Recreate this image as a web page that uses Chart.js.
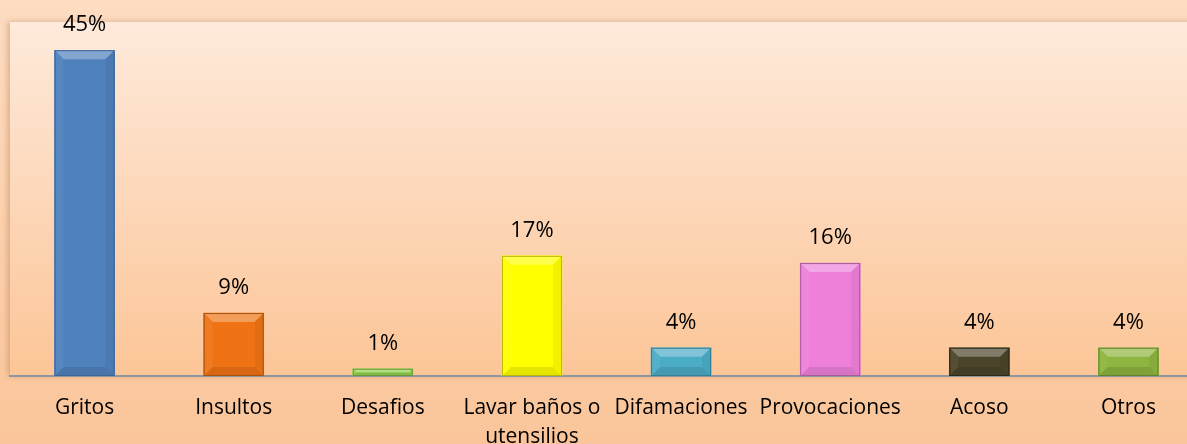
<!DOCTYPE html>
<html>
<head>
<meta charset="utf-8">
<script src="https://cdn.jsdelivr.net/npm/chart.js@4.4.0/dist/chart.umd.min.js"></script>
<style>
  html, body { margin: 0; padding: 0; overflow: hidden; }
  body { width: 1187px; height: 444px; background: linear-gradient(#fddcc1, #fac59a); }
  #wrap { width: 1203px; height: 444px; position: relative; }
</style>
</head>
<body>
<div id="wrap"><canvas id="grafico"></canvas></div>
<script>
// Datos
const categorias = ['Gritos', 'Insultos', 'Desafios', ['Lavar baños o', 'utensilios'], 'Difamaciones', 'Provocaciones', 'Acoso', 'Otros'];
const porcentajes = [45, 8.7, 1, 16.6, 3.9, 15.6, 3.9, 3.9];
const etiquetas = ['45%', '9%', '1%', '17%', '4%', '16%', '4%', '4%'];
const colores = ['#4f81bd', '#ef7314', '#92d050', '#ffff00', '#4bacc6', '#ee80da', '#4a452a', '#8db53f'];
const bordes = ['#3c6494', '#a9520e', '#6a9a38', '#b8b800', '#347f94', '#a85a9a', '#2c2918', '#64822c'];

// fondo del area de trazado
const fondoArea = {
  id: 'fondoArea',
  beforeDraw(chart) {
    const { ctx, chartArea: a } = chart;
    ctx.save();
    ctx.shadowColor = 'rgba(150,90,40,0.35)';
    ctx.shadowBlur = 6;
    ctx.shadowOffsetX = -2;
    const g = ctx.createLinearGradient(0, a.top, 0, a.bottom);
    g.addColorStop(0, '#feeadb');
    g.addColorStop(1, '#fcc597');
    ctx.fillStyle = g;
    ctx.fillRect(a.left, a.top, a.right - a.left, a.bottom - a.top);
    ctx.restore();
  }
};

function aclarar(hex, f) {
  const n = parseInt(hex.slice(1), 16);
  let r = n >> 16, g = (n >> 8) & 255, b = n & 255;
  if (f > 0) { r += (255 - r) * f; g += (255 - g) * f; b += (255 - b) * f; }
  else { r *= 1 + f; g *= 1 + f; b *= 1 + f; }
  return `rgb(${r | 0},${g | 0},${b | 0})`;
}

// bisel de las barras y etiquetas
const bisel = {
  id: 'bisel',
  afterDatasetsDraw(chart) {
    const { ctx } = chart;
    const meta = chart.getDatasetMeta(0);
    ctx.save();
    meta.data.forEach((bar, i) => {
      const l = bar.x - bar.width / 2, r = bar.x + bar.width / 2;
      const t = bar.y, b = bar.base;
      const s = Math.min(9, (b - t) / 2);
      const c = colores[i];
      // arriba
      ctx.fillStyle = aclarar(c, 0.3);
      ctx.beginPath(); ctx.moveTo(l, t); ctx.lineTo(r, t); ctx.lineTo(r - s, t + s); ctx.lineTo(l + s, t + s); ctx.fill();
      // abajo
      ctx.fillStyle = aclarar(c, -0.1);
      ctx.beginPath(); ctx.moveTo(l, b); ctx.lineTo(r, b); ctx.lineTo(r - s, b - s); ctx.lineTo(l + s, b - s); ctx.fill();
      // derecha
      ctx.fillStyle = aclarar(c, -0.05);
      ctx.beginPath(); ctx.moveTo(r, t); ctx.lineTo(r, b); ctx.lineTo(r - s, b - s); ctx.lineTo(r - s, t + s); ctx.fill();
      // izquierda
      ctx.fillStyle = aclarar(c, 0.05);
      ctx.beginPath(); ctx.moveTo(l, t); ctx.lineTo(l, b); ctx.lineTo(l + s, b - s); ctx.lineTo(l + s, t + s); ctx.fill();
      ctx.strokeStyle = bordes[i];
      ctx.lineWidth = 1;
      ctx.strokeRect(l + 0.5, t + 0.5, bar.width - 1, b - t - 1);
      // etiqueta
      ctx.fillStyle = '#000';
      ctx.font = '22px "Open Sans", sans-serif';
      ctx.textAlign = 'center';
      ctx.textBaseline = 'alphabetic';
      ctx.fillText(etiquetas[i], bar.x, t - 19);
    });
    ctx.restore();
  }
};

const ctx1 = document.getElementById('grafico');
new Chart(ctx1, {
  type: 'bar',
  data: {
    labels: categorias,
    datasets: [{
      data: porcentajes,
      backgroundColor: colores,
      borderWidth: 0,
      barThickness: 60
    }]
  },
  options: {
    responsive: true,
    maintainAspectRatio: false,
    animation: false,
    layout: { padding: { left: 10, top: 22, right: 0, bottom: 0 } },
    plugins: {
      legend: { display: false },
      tooltip: { enabled: false }
    },
    scales: {
      y: { display: false, min: 0, max: 48.9 },
      x: {
        grid: { display: false, drawTicks: false },
        border: { color: '#8a96a4', width: 2 },
        ticks: {
          color: '#000',
          padding: 18,
          maxRotation: 0,
          autoSkip: false,
          font: { family: '"Open Sans", sans-serif', size: 21, lineHeight: 1.38 }
        },
        afterFit(scale) { scale.height = 68; }
      }
    }
  },
  plugins: [fondoArea, bisel]
});
</script>
</body>
</html>
